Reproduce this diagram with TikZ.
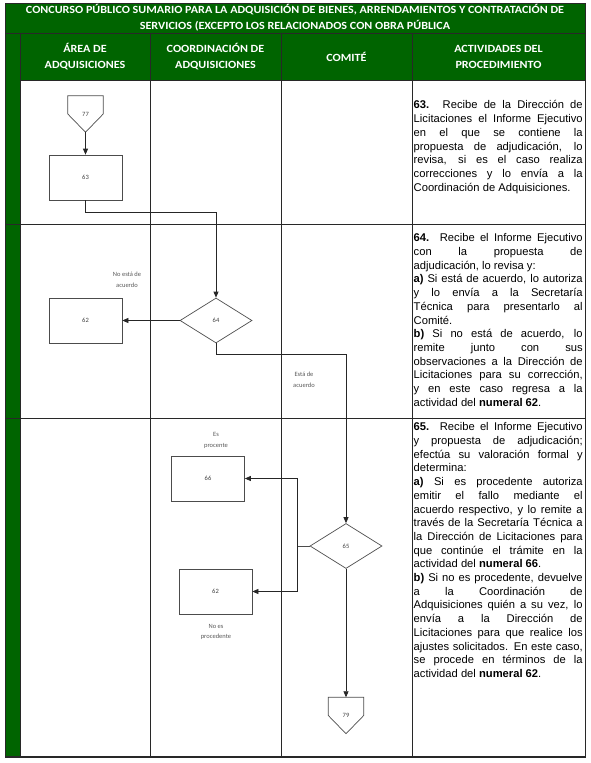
\documentclass[tikz,border=0pt]{standalone}
\usepackage{fontspec}
\setmainfont{Liberation Sans}
\newfontfamily\bodyfont{Liberation Sans}
\newfontfamily\hdrfont{Carlito}[FakeStretch=1.1]
\newfontfamily\tagfont{Carlito}
\usetikzlibrary{arrows.meta, positioning, shapes.geometric}
\definecolor{band}{RGB}{0, 100, 0}
\definecolor{rule}{RGB}{40, 40, 40}
\setlength{\parindent}{0pt}
\tolerance=10000
\hbadness=10000

\begin{document}
\begin{tikzpicture}[
    x=1pt, y=-1pt,
    >={Triangle[length=6pt, width=5pt]},
    grid/.style={draw=rule, line width=0.8pt},
    box/.style={rectangle, draw=black!70, line width=0.7pt, minimum width=73pt, minimum height=45pt, inner sep=0pt, font=\tagfont\fontsize{6.5}{7}\selectfont, text=black!75},
    choice/.style={diamond, draw=black!70, line width=0.7pt, minimum width=72pt, minimum height=45pt, inner sep=0pt, font=\tagfont\fontsize{6.5}{7}\selectfont, text=black!75},
    offpage/.style={rectangle, minimum width=35pt, minimum height=36pt, inner sep=0pt, font=\tagfont\fontsize{6.5}{7}\selectfont, text=black!75},
    lin/.style={draw=black!70, line width=0.7pt},
    flow/.style={->, black!85, line width=0.7pt},
    tag/.style={font=\tagfont\fontsize{6.5}{10.5}\selectfont, text=black!65, align=center},
    head/.style={font=\hdrfont\bfseries\fontsize{11}{16}\selectfont, text=white, align=center},
    act/.style={anchor=north west, inner sep=0pt, text width=169pt, align=justify, font=\bodyfont\fontsize{11.2}{13.7}\selectfont}
  ]
  \useasboundingbox (0,0) rectangle (590,763);

  % Green bands
  \fill[band] (5,3) rectangle (585,80);
  \fill[band] (5,80) rectangle (20,757);

  % Table rules
  \draw[grid] (5,3) rectangle (585,757);
  \draw[grid] (5,33) -- (585,33);
  \draw[grid] (20,80) -- (585,80);
  \foreach \x in {20,150,281,412} {
    \draw[grid] (\x,33) -- (\x,757);
  }
  \foreach \y in {224,418} {
    \draw[grid] (5,\y) -- (585,\y);
  }
  \draw[grid, line width=1.2pt] (5,757) -- (585,757);

  % Headers
  \node[head] (title) at (295,18) {CONCURSO PÚBLICO SUMARIO PARA LA ADQUISICIÓN DE BIENES, ARRENDAMIENTOS Y CONTRATACIÓN DE\\SERVICIOS (EXCEPTO LOS RELACIONADOS CON OBRA PÚBLICA};
  \node[head] (h1) at (85,56.5) {ÁREA DE\\ADQUISICIONES};
  \node[head] (h2) at (215.5,56.5) {COORDINACIÓN DE\\ADQUISICIONES};
  \node[head] (h3) at (346.5,56.5) {COMITÉ};
  \node[head] (h4) at (498.5,56.5) {ACTIVIDADES DEL\\PROCEDIMIENTO};

  % Flow shapes
  \node[offpage] (c77) at (85.5,114) {77};
  \node[box] (b63) at (85.5,177.5) {63};
  \node[box] (b62a) at (85.5,320.5) {62};
  \node[choice] (d64) at (216,320.5) {64};
  \node[box] (b66) at (208,478.5) {66};
  \node[choice] (d65) at (346,546) {65};
  \node[box] (b62b) at (215.5,591.5) {62};
  \node[offpage] (c79) at (346,715.5) {79};
  \foreach \c in {c77,c79} {
    \draw[lin] (\c.north west) -- (\c.north east) -- (\c.east) -- (\c.south) -- (\c.west) -- cycle;
  }

  % Connectors
  \draw[flow] (c77.south) -- (b63.north);
  \draw[flow] (b63.south) -- ++(0,12) -| (d64.north);
  \draw[flow] (d64.west) -- (b62a.east);
  \draw[flow] (d64.south) -- ++(0,11) -| (d65.north);
  \draw[lin] (d65.west) -- ++(-12,0) coordinate (split);
  \draw[flow] (split) |- (b66.east);
  \draw[flow] (split) |- (b62b.east);
  \draw[flow] (d65.south) -- (c79.north);

  % Branch labels
  \node[tag] (l64no) at (127,280) {No está de\\acuerdo};
  \node[tag] (l64si) at (304,380) {Está de\\acuerdo};
  \node[tag] (l65si) at (216,440.5) {Es\\procente};
  \node[tag] (l65no) at (216,632) {No es\\procedente};

  % Activities
  \node[act] (t63) at (413.5,100.5) {\textbf{63.} Recibe de la Dirección de\linebreak
    Licitaciones el Informe Ejecutivo\linebreak
    en el que se contiene la\linebreak
    propuesta de adjudicación, lo\linebreak
    revisa, si es el caso realiza\linebreak
    correcciones y lo envía a la\linebreak
    Coordinación de Adquisiciones.};
  \node[act] (t64) at (413.5,233.5) {\textbf{64.} Recibe el Informe Ejecutivo\linebreak
    con la propuesta de\linebreak
    adjudicación, lo revisa y:\par
    \textbf{a)} Si está de acuerdo, lo autoriza\linebreak
    y lo envía a la Secretaría\linebreak
    Técnica para presentarlo al\linebreak
    Comité.\par
    \textbf{b)} Si no está de acuerdo, lo\linebreak
    remite junto con sus\linebreak
    observaciones a la Dirección de\linebreak
    Licitaciones para su corrección,\linebreak
    y en este caso regresa a la\linebreak
    actividad del \textbf{numeral 62}.};
  \node[act] (t65) at (413.5,422.5) {\textbf{65.} Recibe el Informe Ejecutivo\linebreak
    y propuesta de adjudicación;\linebreak
    efectúa su valoración formal y\linebreak
    determina:\par
    \textbf{a)} Si es procedente autoriza\linebreak
    emitir el fallo mediante el\linebreak
    acuerdo respectivo, y lo remite a\linebreak
    través de la Secretaría Técnica a\linebreak
    la Dirección de Licitaciones para\linebreak
    que continúe el trámite en la\linebreak
    actividad del \textbf{numeral 66}.\par
    \textbf{b)} Si no es procedente, devuelve\linebreak
    a la Coordinación de\linebreak
    Adquisiciones quién a su vez, lo\linebreak
    envía a la Dirección de\linebreak
    Licitaciones para que realice los\linebreak
    ajustes solicitados. En este caso,\linebreak
    se procede en términos de la\linebreak
    actividad del \textbf{numeral 62}.};

\end{tikzpicture}
\end{document}
